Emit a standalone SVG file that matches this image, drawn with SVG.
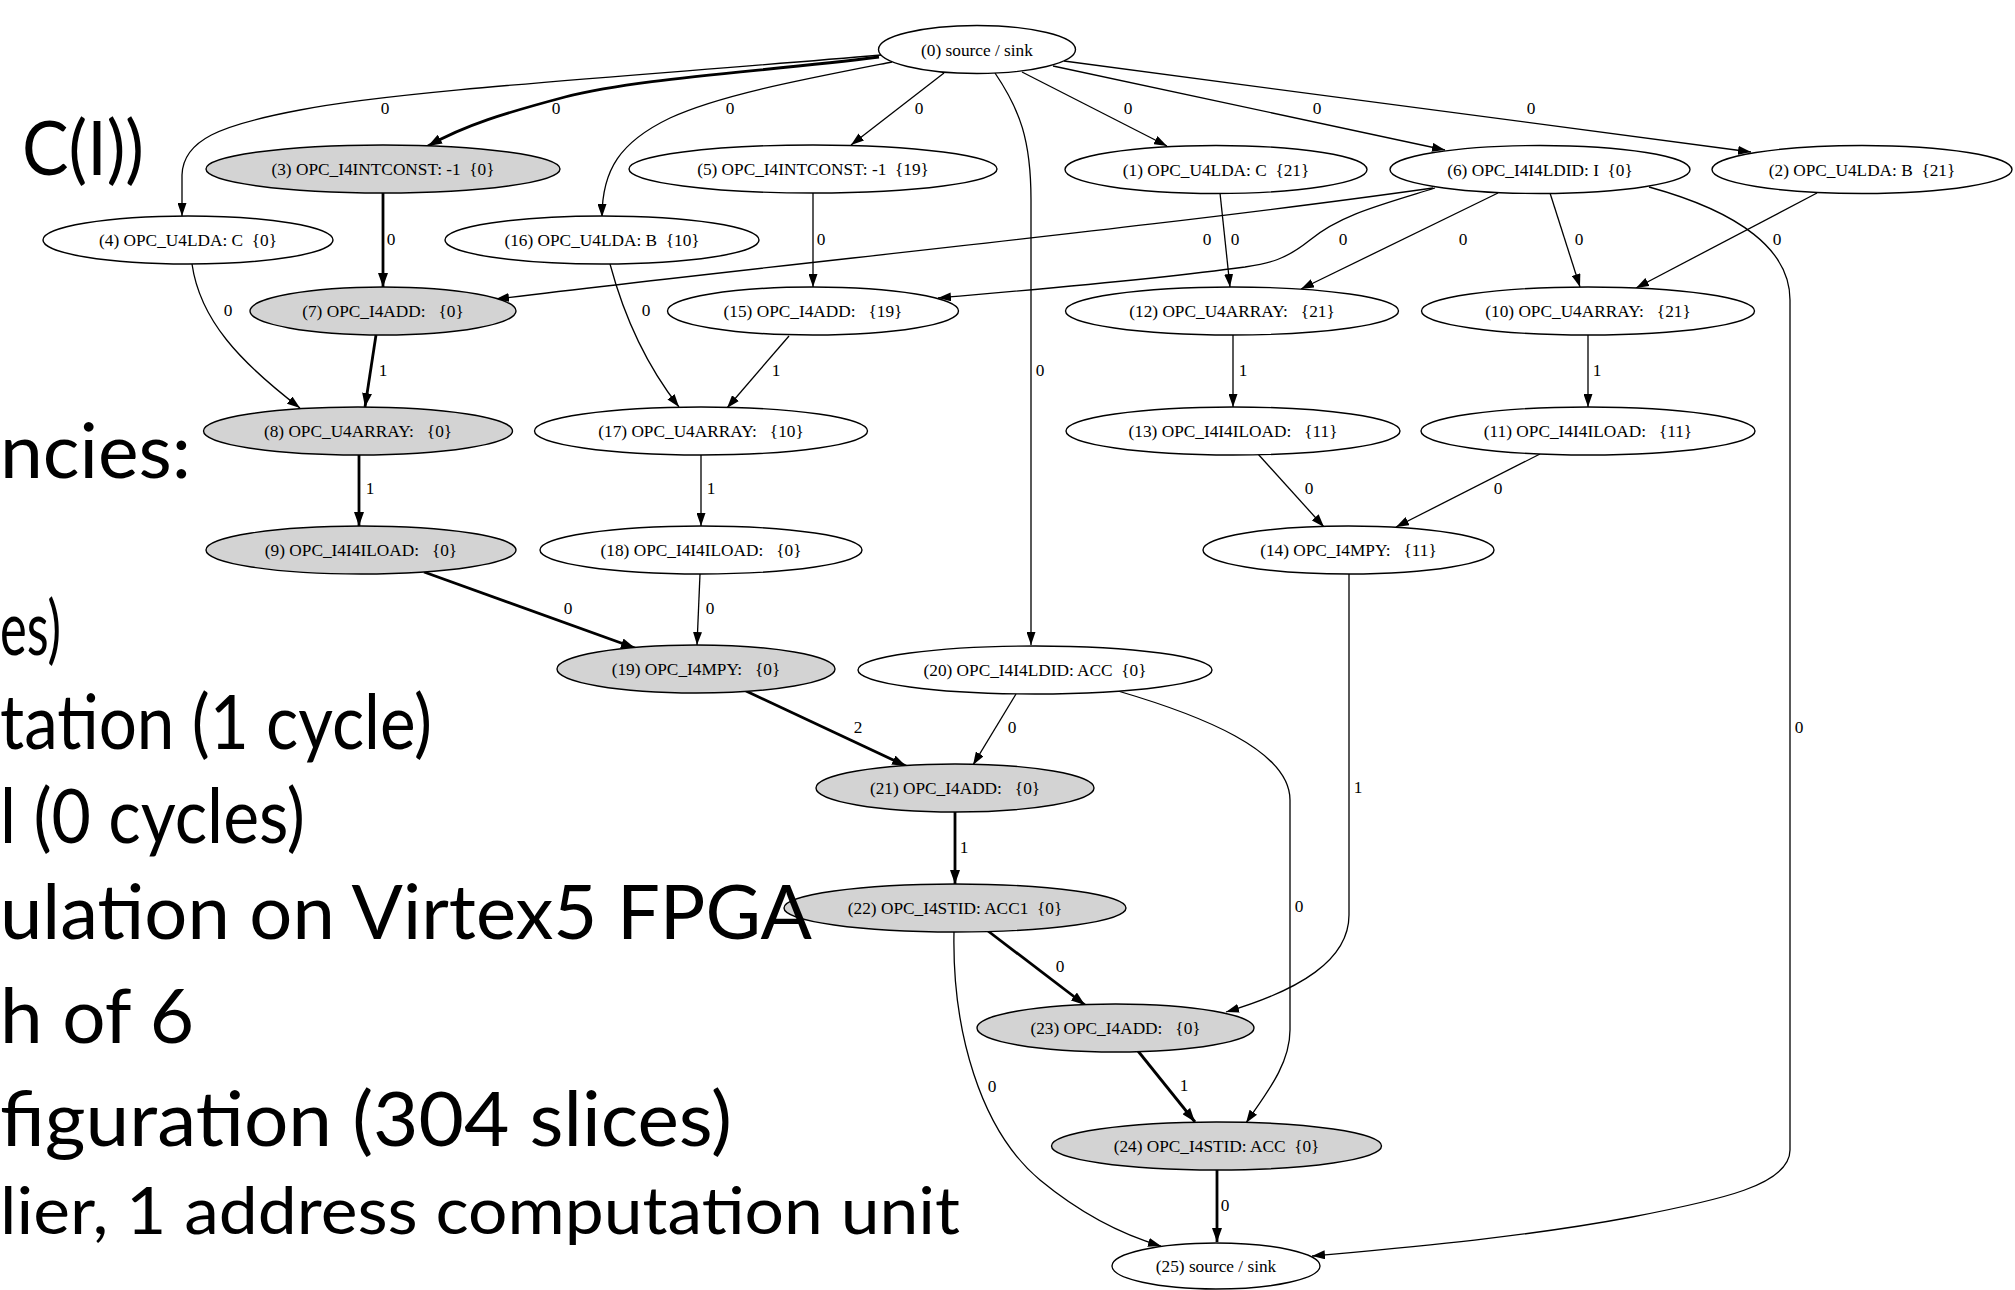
<svg xmlns="http://www.w3.org/2000/svg" width="2015" height="1290" viewBox="0 0 2015 1290">
<style>
  .n ellipse { stroke: #000; stroke-width: 1.4; fill: #fff; }
  .n.crit ellipse { fill: #d3d3d3; }
  .n text, .lbl { font-family: "Liberation Serif", "Times New Roman", serif; font-size: 17.3px; fill: #000; text-anchor: middle; white-space: pre; }
  .e { fill: none; stroke: #000; stroke-width: 1.3; marker-end: url(#arr); }
  .e.b { stroke-width: 2.8; marker-end: url(#arrb); }
  .slide { font-family: Lato, "Open Sans", "Liberation Sans", sans-serif; font-size: 75px; fill: #000; }
</style>
<defs>
  <marker id="arr" viewBox="0 0 13 9" refX="13" refY="4.5" markerWidth="13" markerHeight="9" orient="auto" markerUnits="userSpaceOnUse">
    <path d="M0,0 L13,4.5 L0,9 z" fill="#000"/>
  </marker>
  <marker id="arrb" viewBox="0 0 14 10" refX="14" refY="5" markerWidth="14" markerHeight="10" orient="auto" markerUnits="userSpaceOnUse">
    <path d="M0,0 L14,5 L0,10 z" fill="#000"/>
  </marker>
</defs>
<rect width="2015" height="1290" fill="#fff"/>

<!-- dependence edges -->
<g id="edges">
  <path class="e" d="M881,55 C650,75 400,90 300,110 C220,125 183,140 182,175 L182,216"/>
  <path class="e b" d="M879,57 C760,72 640,78 565,97 C505,113 465,125 428,146"/>
  <path class="e" d="M892,62 C800,80 720,95 670,118 C620,142 602,170 602,217"/>
  <path class="e" d="M944,73 L851,145"/>
  <path class="e" d="M995,73 C1020,110 1031,140 1031,200 L1031,645"/>
  <path class="e" d="M1022,72 L1167,146"/>
  <path class="e" d="M1053,66 L1445,150"/>
  <path class="e" d="M1064,61 L1751,152"/>
  <path class="e b" d="M383,193 L383,287"/>
  <path class="e" d="M813,193 L813,287"/>
  <path class="e" d="M192,264 C200,320 240,362 300,408"/>
  <path class="e" d="M610,264 C625,320 650,370 679,407"/>
  <path class="e" d="M1433,188 C1150,228 800,262 496,299"/>
  <path class="e" d="M1435,188 C1380,205 1340,215 1310,240 C1285,260 1270,263 1245,267 C1150,280 1030,290 938,298"/>
  <path class="e" d="M1220,193 L1230,287"/>
  <path class="e" d="M1498,193 L1301,289"/>
  <path class="e" d="M1550,193 L1580,287"/>
  <path class="e" d="M1817,193 L1636,288"/>
  <path class="e" d="M1649,187 C1740,212 1790,250 1790,300 L1790,1150 C1790,1185 1720,1200 1632,1217 C1520,1238 1400,1248 1312,1256"/>
  <path class="e b" d="M376,335 L365,407"/>
  <path class="e" d="M789,336 L727,408"/>
  <path class="e" d="M1233,335 L1233,407"/>
  <path class="e" d="M1588,335 L1588,407"/>
  <path class="e b" d="M359,455 L359,526"/>
  <path class="e" d="M701,455 L701,526"/>
  <path class="e" d="M1258,454 L1324,527"/>
  <path class="e" d="M1540,454 L1396,527"/>
  <path class="e b" d="M424,572 L635,648"/>
  <path class="e" d="M700,574 L697,645"/>
  <path class="e b" d="M746,691 L906,766"/>
  <path class="e" d="M1016,694 L973,765"/>
  <path class="e" d="M1118,691 C1200,715 1290,750 1290,800 L1290,1030 C1290,1065 1265,1095 1246,1123"/>
  <path class="e b" d="M955,812 L955,884"/>
  <path class="e b" d="M988,931 L1085,1005"/>
  <path class="e" d="M954,932 C952,1030 980,1130 1040,1180 C1080,1213 1120,1234 1161,1246"/>
  <path class="e b" d="M1138,1051 L1195,1122"/>
  <path class="e" d="M1349,574 L1349,915 C1349,960 1300,990 1226,1012"/>
  <path class="e b" d="M1217,1170 L1217,1242"/>

  <!-- latency labels -->
  <text class="lbl" x="385" y="114">0</text>
  <text class="lbl" x="556" y="114">0</text>
  <text class="lbl" x="730" y="114">0</text>
  <text class="lbl" x="919" y="114">0</text>
  <text class="lbl" x="1128" y="114">0</text>
  <text class="lbl" x="1317" y="114">0</text>
  <text class="lbl" x="1531" y="114">0</text>
  <text class="lbl" x="1040" y="376">0</text>
  <text class="lbl" x="391" y="245">0</text>
  <text class="lbl" x="821" y="245">0</text>
  <text class="lbl" x="228" y="316">0</text>
  <text class="lbl" x="646" y="316">0</text>
  <text class="lbl" x="1207" y="245">0</text>
  <text class="lbl" x="1235" y="245">0</text>
  <text class="lbl" x="1343" y="245">0</text>
  <text class="lbl" x="1463" y="245">0</text>
  <text class="lbl" x="1579" y="245">0</text>
  <text class="lbl" x="1777" y="245">0</text>
  <text class="lbl" x="1799" y="733">0</text>
  <text class="lbl" x="383" y="376">1</text>
  <text class="lbl" x="776" y="376">1</text>
  <text class="lbl" x="1243" y="376">1</text>
  <text class="lbl" x="1597" y="376">1</text>
  <text class="lbl" x="370" y="494">1</text>
  <text class="lbl" x="711" y="494">1</text>
  <text class="lbl" x="1309" y="494">0</text>
  <text class="lbl" x="1498" y="494">0</text>
  <text class="lbl" x="568" y="614">0</text>
  <text class="lbl" x="710" y="614">0</text>
  <text class="lbl" x="858" y="733">2</text>
  <text class="lbl" x="1012" y="733">0</text>
  <text class="lbl" x="1358" y="793">1</text>
  <text class="lbl" x="964" y="853">1</text>
  <text class="lbl" x="1299" y="912">0</text>
  <text class="lbl" x="1060" y="972">0</text>
  <text class="lbl" x="992" y="1092">0</text>
  <text class="lbl" x="1184" y="1091">1</text>
  <text class="lbl" x="1225" y="1211">0</text>
</g>

<!-- operation nodes -->
<g id="n0" class="n"><ellipse cx="977" cy="49.5" rx="98.5" ry="24"/><text x="977" y="55.5">(0) source / sink</text></g>
<g id="n3" class="n crit"><ellipse cx="383" cy="169" rx="177" ry="24"/><text x="383" y="175">(3) OPC_I4INTCONST: -1  {0}</text></g>
<g id="n5" class="n"><ellipse cx="813" cy="169" rx="184" ry="24"/><text x="813" y="175">(5) OPC_I4INTCONST: -1  {19}</text></g>
<g id="n1" class="n"><ellipse cx="1216" cy="169.5" rx="151" ry="24"/><text x="1216" y="175.5">(1) OPC_U4LDA: C  {21}</text></g>
<g id="n6" class="n"><ellipse cx="1540" cy="169.5" rx="150" ry="24"/><text x="1540" y="175.5">(6) OPC_I4I4LDID: I  {0}</text></g>
<g id="n2" class="n"><ellipse cx="1862" cy="169.5" rx="150" ry="24"/><text x="1862" y="175.5">(2) OPC_U4LDA: B  {21}</text></g>
<g id="n4" class="n"><ellipse cx="188" cy="240" rx="145" ry="24"/><text x="188" y="246">(4) OPC_U4LDA: C  {0}</text></g>
<g id="n16" class="n"><ellipse cx="602" cy="240" rx="157" ry="24"/><text x="602" y="246">(16) OPC_U4LDA: B  {10}</text></g>
<g id="n7" class="n crit"><ellipse cx="383" cy="311" rx="133" ry="24"/><text x="383" y="317">(7) OPC_I4ADD:   {0}</text></g>
<g id="n15" class="n"><ellipse cx="813" cy="311" rx="145.5" ry="24"/><text x="813" y="317">(15) OPC_I4ADD:   {19}</text></g>
<g id="n12" class="n"><ellipse cx="1232" cy="311" rx="166.5" ry="24"/><text x="1232" y="317">(12) OPC_U4ARRAY:   {21}</text></g>
<g id="n10" class="n"><ellipse cx="1588" cy="311" rx="166.5" ry="24"/><text x="1588" y="317">(10) OPC_U4ARRAY:   {21}</text></g>
<g id="n8" class="n crit"><ellipse cx="358" cy="431" rx="154.5" ry="24"/><text x="358" y="437">(8) OPC_U4ARRAY:   {0}</text></g>
<g id="n17" class="n"><ellipse cx="701" cy="431" rx="166.5" ry="24"/><text x="701" y="437">(17) OPC_U4ARRAY:   {10}</text></g>
<g id="n13" class="n"><ellipse cx="1233" cy="431" rx="167" ry="24"/><text x="1233" y="437">(13) OPC_I4I4ILOAD:   {11}</text></g>
<g id="n11" class="n"><ellipse cx="1588" cy="431" rx="167" ry="24"/><text x="1588" y="437">(11) OPC_I4I4ILOAD:   {11}</text></g>
<g id="n9" class="n crit"><ellipse cx="361" cy="550" rx="155" ry="24"/><text x="361" y="556">(9) OPC_I4I4ILOAD:   {0}</text></g>
<g id="n18" class="n"><ellipse cx="701" cy="550" rx="161" ry="24"/><text x="701" y="556">(18) OPC_I4I4ILOAD:   {0}</text></g>
<g id="n14" class="n"><ellipse cx="1348.5" cy="550" rx="145.5" ry="24"/><text x="1348.5" y="556">(14) OPC_I4MPY:   {11}</text></g>
<g id="n19" class="n crit"><ellipse cx="696" cy="669" rx="139" ry="24"/><text x="696" y="675">(19) OPC_I4MPY:   {0}</text></g>
<g id="n20" class="n"><ellipse cx="1035" cy="670" rx="177" ry="24"/><text x="1035" y="676">(20) OPC_I4I4LDID: ACC  {0}</text></g>
<g id="n21" class="n crit"><ellipse cx="955" cy="788" rx="139" ry="24"/><text x="955" y="794">(21) OPC_I4ADD:   {0}</text></g>
<g id="n22" class="n crit"><ellipse cx="955" cy="908" rx="171" ry="24"/><text x="955" y="914">(22) OPC_I4STID: ACC1  {0}</text></g>
<g id="n23" class="n crit"><ellipse cx="1115.5" cy="1028" rx="138.5" ry="24"/><text x="1115.5" y="1034">(23) OPC_I4ADD:   {0}</text></g>
<g id="n24" class="n crit"><ellipse cx="1216.5" cy="1146" rx="165" ry="24"/><text x="1216.5" y="1152">(24) OPC_I4STID: ACC  {0}</text></g>
<g id="n25" class="n"><ellipse cx="1216" cy="1266" rx="104" ry="23"/><text x="1216" y="1272">(25) source / sink</text></g>

<!-- slide text behind/around the graph -->
<g id="slide-text">
  <text class="slide" x="22" y="175" textLength="122" lengthAdjust="spacingAndGlyphs">C(I))</text>
  <text class="slide" x="0" y="478" textLength="191" lengthAdjust="spacingAndGlyphs">ncies:</text>
  <text class="slide" x="0" y="655" textLength="61" lengthAdjust="spacingAndGlyphs">es)</text>
  <text class="slide" x="0" y="749" textLength="432" lengthAdjust="spacingAndGlyphs">tation (1 cycle)</text>
  <text class="slide" x="0" y="843" textLength="305" lengthAdjust="spacingAndGlyphs">l (0 cycles)</text>
  <text class="slide" x="0" y="939" textLength="812" lengthAdjust="spacingAndGlyphs">ulation on Virtex5 FPGA</text>
  <text class="slide" x="0" y="1043" textLength="194" lengthAdjust="spacingAndGlyphs">h of 6</text>
  <text class="slide" x="0" y="1146" textLength="732" lengthAdjust="spacingAndGlyphs">figuration (304 slices)</text>
  <text class="slide" x="0" y="1234" textLength="960" lengthAdjust="spacingAndGlyphs" style="font-size:66px">lier, 1 address computation unit</text>
</g>
</svg>
